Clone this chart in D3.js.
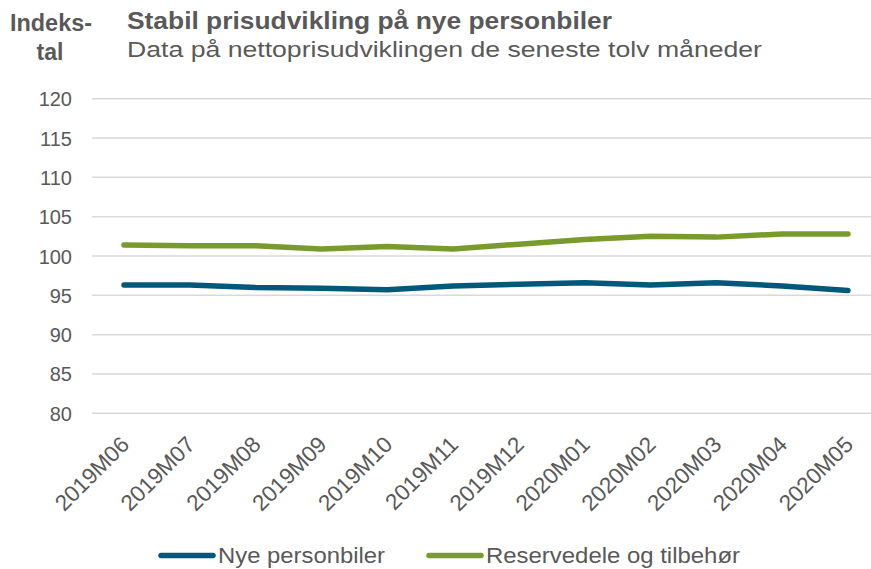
<!DOCTYPE html>
<html><head><meta charset="utf-8">
<script src="https://cdn.jsdelivr.net/npm/d3@7"></script>
<style>body{margin:0;background:#fff}svg{display:block}text{font-family:"Liberation Sans",Arial,sans-serif}</style>
</head><body>
<svg id="c" width="871" height="569"></svg>
<script>
const categories = ["2019M06","2019M07","2019M08","2019M09","2019M10","2019M11","2019M12","2020M01","2020M02","2020M03","2020M04","2020M05"];
const nyePersonbiler = [96.3, 96.3, 96.0, 95.9, 95.7, 96.2, 96.4, 96.6, 96.3, 96.6, 96.2, 95.6];
const reservedele = [101.4, 101.3, 101.3, 100.9, 101.2, 100.9, 101.5, 102.1, 102.5, 102.4, 102.8, 102.8];
const yTicks = [80, 85, 90, 95, 100, 105, 110, 115, 120];
const seriesNames = ["Nye personbiler", "Reservedele og tilbehør"];
const colors = ["#00587b", "#799b2d"];

const svg = d3.select("#c");
const gray = "#595959";
const x = d3.scalePoint().domain(categories).range([124, 848]);
const y = d3.scaleLinear().domain([80, 120]).range([413.3, 98.7]);

// grid
svg.append("g").selectAll("line").data(yTicks).join("line")
  .attr("x1", 92).attr("x2", 871)
  .attr("y1", d => y(d)).attr("y2", d => y(d))
  .attr("stroke", "#d9d9d9").attr("stroke-width", 1.5);

// y axis labels
const yAxis = d3.axisLeft(y).tickValues(yTicks).tickSize(0).tickPadding(0);
const gy = svg.append("g").attr("transform", "translate(72,0)").call(yAxis);
gy.select(".domain").remove();
gy.selectAll("text").attr("fill", gray).style("font-size", "20px").attr("dy", "0.35em");

// x axis labels
const xAxis = d3.axisBottom(x).tickSize(0).tickPadding(0);
const gx = svg.append("g").attr("transform", "translate(0,413)").call(xAxis);
gx.select(".domain").remove();
gx.selectAll("text")
  .attr("fill", gray).style("font-size", "22.5px")
  .attr("text-anchor", "end").attr("y", 0).attr("dy", 0)
  .attr("transform", "translate(6,33) rotate(-45)");

// lines
const line = d3.line().x((d, i) => x(categories[i])).y(d => y(d)).curve(d3.curveLinear);
[nyePersonbiler, reservedele].forEach((s, k) => {
  svg.append("path").datum(s).attr("d", line)
    .attr("fill", "none").attr("stroke", colors[k]).attr("stroke-width", 5.5)
    .attr("stroke-linecap", "round").attr("stroke-linejoin", "round");
});

// titles
svg.append("text").attr("x", 127).attr("y", 28.5).attr("fill", gray)
  .style("font-size", "24px").style("font-weight", "bold")
  .attr("textLength", 485).attr("lengthAdjust", "spacingAndGlyphs")
  .text("Stabil prisudvikling på nye personbiler");
svg.append("text").attr("x", 127).attr("y", 57).attr("fill", gray)
  .style("font-size", "22px")
  .attr("textLength", 635).attr("lengthAdjust", "spacingAndGlyphs")
  .text("Data på nettoprisudviklingen de seneste tolv måneder");
svg.append("text").attr("x", 10).attr("y", 31).attr("fill", gray)
  .style("font-size", "23px").style("font-weight", "bold")
  .attr("textLength", 82).attr("lengthAdjust", "spacingAndGlyphs").text("Indeks-");
svg.append("text").attr("x", 50).attr("y", 60).attr("fill", gray).attr("text-anchor", "middle")
  .style("font-size", "23px").style("font-weight", "bold").text("tal");

// legend
const legX = [161, 429];
const legW = [167, 254];
seriesNames.forEach((n, k) => {
  svg.append("line").attr("x1", legX[k]).attr("x2", legX[k] + 52).attr("y1", 555.5).attr("y2", 555.5)
    .attr("stroke", colors[k]).attr("stroke-width", 5.5).attr("stroke-linecap", "round");
  svg.append("text").attr("x", legX[k] + 57).attr("y", 563).attr("fill", gray)
    .style("font-size", "22px")
    .attr("textLength", legW[k]).attr("lengthAdjust", "spacingAndGlyphs").text(n);
});
</script>
</body></html>
